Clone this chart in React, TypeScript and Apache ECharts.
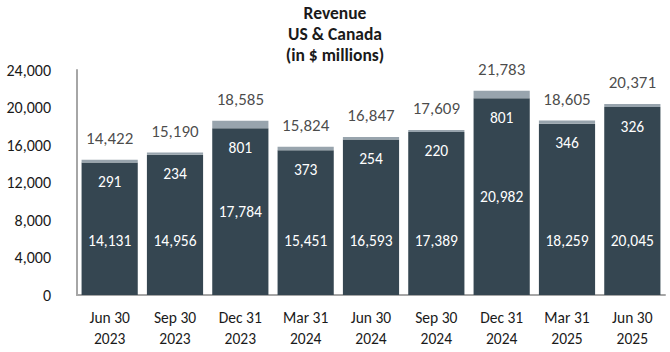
import React, { useEffect, useRef } from "react";
import * as echarts from "echarts";

const categories = [
  "Jun 30\n2023", "Sep 30\n2023", "Dec 31\n2023", "Mar 31\n2024", "Jun 30\n2024",
  "Sep 30\n2024", "Dec 31\n2024", "Mar 31\n2025", "Jun 30\n2025",
];
const mainValues = [14131, 14956, 17784, 15451, 16593, 17389, 20982, 18259, 20045];
const topValues = [291, 234, 801, 373, 254, 220, 801, 346, 326];
const totals = mainValues.map((v, i) => v + topValues[i]);
const yTicks = [0, 4000, 8000, 12000, 16000, 20000, 24000];

// label placement style (not data)
const middleLabel = [false, false, true, false, false, false, true, false, false];

const FONT = "Carlito, Calibri, Lato, sans-serif";
const fmt = (n: number) => n.toLocaleString("en-US");

export default function App() {
  const ref = useRef<HTMLDivElement>(null);
  useEffect(() => {
    if (!ref.current) return;
    const chart = echarts.init(ref.current, null, { renderer: "svg" });
    chart.setOption({
      animation: false,
      textStyle: { fontFamily: FONT },
      title: {
        text: "Revenue\nUS & Canada\n(in $ millions)",
        left: "center",
        top: -3,
        textStyle: { fontFamily: FONT, fontSize: 17.5, fontWeight: "bold", color: "#1a1a1a", lineHeight: 21 },
      },
      grid: { left: 77, right: 5, top: 70, bottom: 57 },
      xAxis: {
        type: "category",
        data: categories,
        axisLine: { lineStyle: { color: "#a6a6a6", width: 2 } },
        axisTick: { show: false },
        axisLabel: { color: "#1a1a1a", fontSize: 15.5, lineHeight: 21, margin: 12, fontFamily: FONT },
      },
      yAxis: {
        type: "value",
        min: yTicks[0],
        max: yTicks[yTicks.length - 1],
        interval: 4000,
        splitLine: { show: false },
        axisLine: { show: true, lineStyle: { color: "#a6a6a6", width: 2 } },
        axisTick: { show: false },
        axisLabel: { color: "#1a1a1a", fontSize: 16, margin: 26, fontFamily: FONT, formatter: (v: number) => fmt(v) },
      },
      series: [
        {
          type: "bar",
          stack: "rev",
          barCategoryGap: "14%",
          data: mainValues.map((v, i) => ({
            value: v,
            label: middleLabel[i]
              ? { position: "inside" }
              : { position: "insideBottom", distance: 47 },
          })),
          itemStyle: { color: "#354651" },
          label: {
            show: true,
            color: "#ffffff",
            fontSize: 15.5,
            fontFamily: FONT,
            formatter: (p: any) => fmt(p.value),
          },
        },
        {
          type: "bar",
          stack: "rev",
          data: topValues,
          itemStyle: { color: "#98a4ad" },
          label: {
            show: true,
            position: "bottom",
            distance: 11,
            color: "#ffffff",
            fontSize: 15.5,
            fontFamily: FONT,
            formatter: (p: any) => fmt(p.value),
          },
        },
        {
          type: "scatter",
          data: totals,
          symbolSize: 2,
          itemStyle: { color: "rgba(0,0,0,0)" },
          z: 5,
          label: {
            show: true,
            position: "top",
            distance: 12,
            color: "#1a1a1a",
            fontSize: 17,
            fontFamily: FONT,
            formatter: (p: any) => fmt(p.value),
          },
        },
      ],
    });
    return () => chart.dispose();
  }, []);
  return <div ref={ref} style={{ width: 670, height: 352, position: "absolute", left: 0, top: 0 }} />;
}
